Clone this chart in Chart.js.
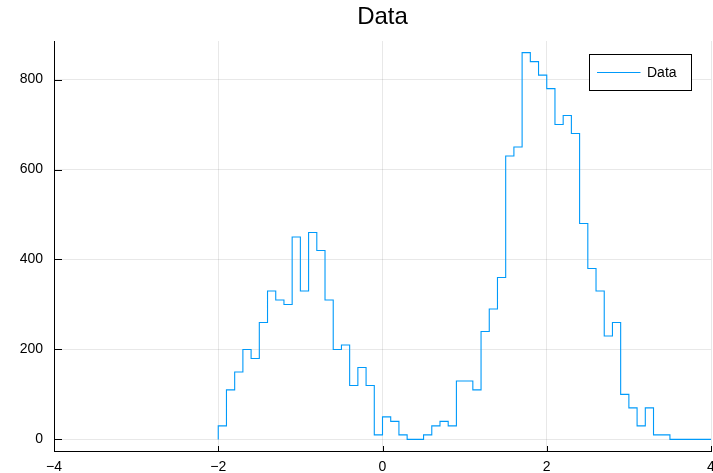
<!DOCTYPE html>
<html>
<head>
<meta charset="utf-8">
<script src="https://cdn.jsdelivr.net/npm/chart.js@4.4.1/dist/chart.umd.min.js"></script>
<style>
  html, body { margin: 0; padding: 0; background: #ffffff; }
  canvas { display: block; }
</style>
</head>
<body>
<canvas id="chart" width="713" height="473"></canvas>
<script>
// ---- data ----
const titleText = "Data";
const seriesName = "Data";
const binEdges = [
  -2.0, -1.9, -1.8, -1.7, -1.6, -1.5, -1.4, -1.3, -1.2, -1.1,
  -1.0, -0.9, -0.8, -0.7, -0.6, -0.5, -0.4, -0.3, -0.2, -0.1,
   0.0,  0.1,  0.2,  0.3,  0.4,  0.5,  0.6,  0.7,  0.8,  0.9,
   1.0,  1.1,  1.2,  1.3,  1.4,  1.5,  1.6,  1.7,  1.8,  1.9,
   2.0,  2.1,  2.2,  2.3,  2.4,  2.5,  2.6,  2.7,  2.8,  2.9,
   3.0,  3.1,  3.2,  3.3,  3.4,  3.5,  3.6,  3.7,  3.8,  3.9,
   4.0
];
const counts = [
   30, 110, 150, 200, 180, 260, 330, 310, 300, 450,
  330, 460, 420, 310, 200, 210, 120, 160, 120,  10,
   50,  40,  10,   0,   0,  10,  30,  40,  30, 130,
  130, 110, 240, 290, 360, 630, 650, 860, 840, 810,
  780, 700, 720, 680, 480, 380, 330, 230, 260, 100,
   70,  30,  70,  10,  10,   0,   0,   0,   0,   0
];
const xTicks = [-4, -2, 0, 2, 4];
const yTicks = [0, 200, 400, 600, 800];
const xMin = -4, xMax = 4;
const yMin = -25.8, yMax = 885.8;

// ---- build step points from the arrays ----
const points = [{ x: binEdges[0], y: 0 }];
counts.forEach((c, i) => points.push({ x: binEdges[i], y: c }));
points.push({ x: binEdges[binEdges.length - 1], y: 0 });

const FONT = "'Liberation Sans', Arial, sans-serif";
const lineColor = "rgb(0,154,250)";
const gridColor = "rgba(0,0,0,0.09)";

const decorations = {
  id: 'decorations',
  afterDraw(chart) {
    const ctx = chart.ctx;
    const a = chart.chartArea;
    const xs = chart.scales.x, ys = chart.scales.y;
    ctx.save();
    // title centred over the plot area
    ctx.fillStyle = '#000';
    ctx.font = '24px ' + FONT;
    ctx.textAlign = 'center';
    ctx.textBaseline = 'middle';
    ctx.fillText(titleText, (a.left + a.right) / 2, 17);
    // inward tick marks
    ctx.strokeStyle = '#000';
    ctx.lineWidth = 1;
    ctx.beginPath();
    yTicks.forEach(v => {
      const y = Math.round(ys.getPixelForValue(v)) + 0.5;
      ctx.moveTo(a.left, y); ctx.lineTo(a.left + 8, y);
    });
    xTicks.forEach(v => {
      const x = Math.round(xs.getPixelForValue(v)) + 0.5;
      ctx.moveTo(x, a.bottom); ctx.lineTo(x, a.bottom - 5);
    });
    ctx.stroke();
    // legend box
    const ds = chart.data.datasets[0];
    const bw = 102, bh = 36;
    const bx = Math.round(a.right - 20 - bw) + 0.5;
    const by = Math.round(a.top + 13) + 0.5;
    ctx.fillStyle = '#fff';
    ctx.fillRect(bx, by, bw, bh);
    ctx.strokeStyle = '#000';
    ctx.lineWidth = 1;
    ctx.strokeRect(bx, by, bw, bh);
    const ly = by + bh / 2;
    ctx.strokeStyle = ds.borderColor;
    ctx.beginPath();
    ctx.moveTo(bx + 7.5, ly); ctx.lineTo(bx + 51, ly);
    ctx.stroke();
    ctx.fillStyle = '#000';
    ctx.font = '14px ' + FONT;
    ctx.textBaseline = 'middle';
    ctx.textAlign = 'left';
    ctx.fillText(ds.label, bx + 57.5, ly + 0.5);
    ctx.restore();
  }
};

new Chart(document.getElementById('chart'), {
  type: 'line',
  data: {
    datasets: [{
      label: seriesName,
      data: points,
      stepped: 'before',
      borderColor: lineColor,
      borderWidth: 1.1,
      pointRadius: 0,
      fill: false,
      tension: 0
    }]
  },
  options: {
    responsive: false,
    animation: false,
    devicePixelRatio: 1,
    layout: { padding: { left: 0, right: 2, top: 41, bottom: 0 } },
    plugins: {
      legend: { display: false },
      tooltip: { enabled: false },
      title: { display: false }
    },
    scales: {
      x: {
        type: 'linear',
        min: xMin, max: xMax,
        afterBuildTicks: s => { s.ticks = xTicks.map(v => ({ value: v })); },
        afterFit: s => { s.height = 22; s.paddingLeft = 0; s.paddingRight = 0; },
        grid: { color: gridColor, drawTicks: false, lineWidth: 1 },
        border: { display: true, color: '#000', width: 1 },
        ticks: {
          color: '#000',
          padding: 8,
          maxRotation: 0,
          font: { family: FONT, size: 14 },
          callback: v => (v < 0 ? '\u2212' + Math.abs(v) : String(v))
        }
      },
      y: {
        type: 'linear',
        min: yMin, max: yMax,
        afterBuildTicks: s => { s.ticks = yTicks.map(v => ({ value: v })); },
        afterFit: s => { s.width = 54; s.paddingTop = 0; s.paddingBottom = 0; },
        grid: { color: gridColor, drawTicks: false, lineWidth: 1 },
        border: { display: true, color: '#000', width: 1 },
        ticks: {
          color: '#000',
          padding: 11,
          font: { family: FONT, size: 14 },
          callback: v => String(v)
        }
      }
    }
  },
  plugins: [decorations]
});
</script>
</body>
</html>
